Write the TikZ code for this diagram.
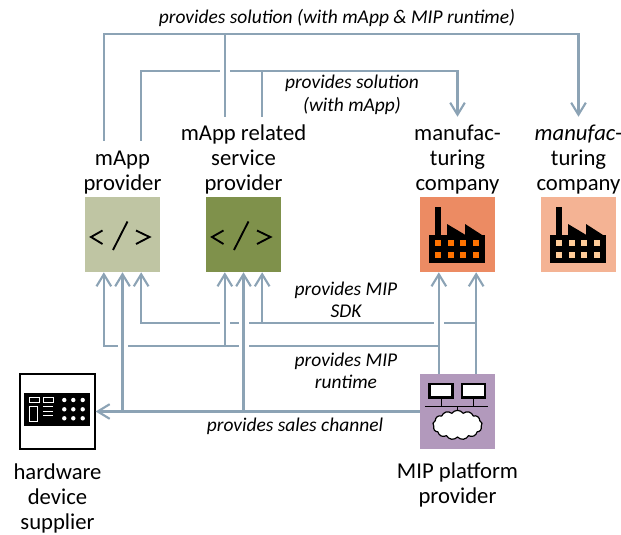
\documentclass[tikz,border=0pt]{standalone}
\usepackage{fontspec}
\setmainfont{Carlito}
\usetikzlibrary{positioning, arrows.meta, shapes.symbols}
\newcommand{\portshift}{14pt}
\newcommand{\gapshift}{3.75pt}
\newcommand{\standardarrow}{-{Straight Barb[length=9pt,width=11pt,line width=1.6pt]}}
\definecolor{linkblue}{HTML}{8CA3B5}
\definecolor{mappgreen}{HTML}{BFC5A3}
\definecolor{servicegreen}{HTML}{7F914B}
\definecolor{factoryorange}{HTML}{EC8B63}
\definecolor{customerorange}{HTML}{F4B394}
\definecolor{platformpurple}{HTML}{B299BC}
\tikzset{
    actorbox/.style={minimum size=56.25pt, inner sep=0pt},
    actorname/.style={font=\fontsize{17}{19}\selectfont, align=center, inner sep=0pt},
    flowname/.style={font=\fontsize{14.6}{16.8}\selectfont\itshape, align=center, inner sep=0pt},
    link/.style={draw=linkblue, line width=1.6pt},
    flow/.style={link, \standardarrow}
}
\newcommand{\codeicon}[1]{
    \begin{scope}[shift={(#1.center)}, line width=1.4pt]
        \draw (-20,-4) -- (-31.5,2.5) -- (-20,9.5);
        \draw (-9.5,15.5) -- (5,-13);
        \draw (13.5,-4) -- (27,2.5) -- (13.5,9.5);
    \end{scope}
}
\newcommand{\factoryicon}[2]{
    \begin{scope}[shift={(#1.center)}]
        \fill (-28.5,0.5) rectangle (27.5,28.5);
        \fill (-22.5,-27.5) rectangle (-16.5,0.5);
        \fill (-10.5,-10.5) -- (8,0.5) -- (-10.5,0.5) -- cycle;
        \fill (7.5,-10.5) -- (24.5,0.5) -- (7.5,0.5) -- cycle;
        \foreach \windowx in {-22.5,-9.5,2.5,15.5} {
            \foreach \windowy in {5.5,17.5} {
                \fill[#2] (\windowx,\windowy) rectangle ++(6,6);
            }
        }
    \end{scope}
}
\begin{document}
\begin{tikzpicture}[x=0.75pt, y=-0.75pt]
    \useasboundingbox (0,0) rectangle (621,535);

    % actors
    \node[actorbox, fill=mappgreen] (mappbox) at (122.5,234.5) {};
    \node[actorbox, fill=servicegreen] (servicebox) at (243.5,234.5) {};
    \node[actorbox, fill=factoryorange] (factorybox) at (457.5,234.5) {};
    \node[actorbox, fill=customerorange] (customerbox) at (578.5,234.5) {};
    \node[actorbox, fill=platformpurple] (platformbox) at (457.5,411.5) {};
    \node[actorbox, fill=white, draw=black, line width=1pt] (hardwarebox) at (57.5,411.5) {};

    \node[actorname, above=1.5pt of mappbox] (mappname) {mApp\\provider};
    \node[actorname, above=1.5pt of servicebox] (servicename) {mApp related\\service\\provider};
    \node[actorname, above=1.5pt of factorybox] (factoryname) {manufac-\\turing\\company};
    \node[actorname, above=1.5pt of customerbox] (customername) {\textit{manufac}-\\turing\\company};
    \node[actorname, below=10pt of platformbox] (platformname) {MIP platform\\provider};
    \node[actorname, below=10pt of hardwarebox] (hardwarename) {hardware\\device\\supplier};

    % icons
    \codeicon{mappbox}
    \codeicon{servicebox}
    \factoryicon{factorybox}{orange!90!red}
    \factoryicon{customerbox}{orange!40!white}

    \begin{scope}[shift={(platformbox.center)}]
        \draw[line width=2.2pt, fill=white] (-28,-27.5) rectangle (-5,-14);
        \draw[line width=2.2pt, fill=white] (4.5,-27.5) rectangle (27.5,-14);
        \draw[line width=0.8pt] (-16.2,-12.5) -- (-16.2,-4.8);
        \draw[line width=0.8pt] (16.2,-12.5) -- (16.2,-4.8);
        \draw[line width=0.8pt] (-32.5,-4.8) -- (30.2,-4.8);
        \node[cloud, draw, fill=white, line width=0.9pt, cloud puffs=13, cloud puff arc=110, aspect=1.7, minimum width=37pt, minimum height=22pt, inner sep=0pt] (platformcloud) at (0,13.5) {};
        \draw[line width=0.8pt] (0,-4.8) -- (platformcloud.north);
    \end{scope}

    \begin{scope}[shift={(hardwarebox.center)}]
        \fill (-33.5,-18.2) rectangle (32.5,14.2);
        \draw[white, line width=0.7pt] (-28.5,-14.2) rectangle (-18.2,-9.5);
        \draw[white, line width=0.7pt] (-14.2,-14.2) rectangle (-4.2,-9.5);
        \draw[white, line width=0.7pt] (-28.2,-5.5) rectangle (-20.2,9.5);
        \foreach \rowy in {-5.2,-0.5,3.8} {
            \draw[white, line width=0.7pt] (-14.2,\rowy) -- (-4.8,\rowy);
        }
        \foreach \dotx in {6.8,15.8,25.2} {
            \foreach \doty in {-11.5,-2.2,6.8} {
                \fill[white] (\dotx,\doty) circle (1.65pt);
            }
        }
    \end{scope}

    % free ends and the runs between them
    \coordinate (mappoutA) at ([xshift=-\portshift, yshift=42pt]mappbox.north);
    \coordinate (mappoutB) at ([xshift=\portshift, yshift=42pt]mappbox.north);
    \coordinate (serviceoutA) at ([xshift=-\portshift, yshift=60pt]servicebox.north);
    \coordinate (serviceoutB) at ([xshift=\portshift, yshift=60pt]servicebox.north);
    \coordinate (factoryin) at ([yshift=60pt]factorybox.north);
    \coordinate (customerin) at ([yshift=60pt]customerbox.north);
    \coordinate (mappL) at ([xshift=-\portshift]mappbox.south);
    \coordinate (mappR) at ([xshift=\portshift]mappbox.south);
    \coordinate (serviceL) at ([xshift=-\portshift]servicebox.south);
    \coordinate (serviceR) at ([xshift=\portshift]servicebox.south);
    \coordinate (factoryL) at ([xshift=-\portshift]factorybox.south);
    \coordinate (factoryR) at ([xshift=\portshift]factorybox.south);
    \coordinate (toprun) at (337,34);
    \coordinate (lowrun) at (337,71);
    \coordinate (sdkrun) at (346,323);
    \coordinate (runtimerun) at (346,346);
    \coordinate (lowcross) at (serviceoutA |- lowrun);
    \coordinate (sdkcrossA) at (serviceL |- sdkrun);
    \coordinate (sdkcrossB) at (servicebox.south |- sdkrun);
    \coordinate (sdkcrossC) at (factoryL |- sdkrun);
    \coordinate (runtimecrossA) at (mappbox.south |- runtimerun);
    \coordinate (runtimecrossB) at (servicebox.south |- runtimerun);

    % provides solution
    \draw[flow] (mappoutA) |- (toprun) -| (customerin);
    \draw[link] (serviceoutA) -- (serviceoutA |- toprun);
    \draw[link] (mappoutB) |- ([xshift=-\gapshift]lowcross);
    \draw[flow] ([xshift=\gapshift]lowcross) -| (factoryin);
    \draw[link] (serviceoutB) -- (serviceoutB |- lowrun);

    % provides MIP SDK
    \draw[flow] ([xshift=\portshift]platformbox.north) -- (factoryR);
    \draw[link] (factoryR |- sdkrun) -- ([xshift=\gapshift]sdkcrossC) ([xshift=-\gapshift]sdkcrossC) -- ([xshift=\gapshift]sdkcrossB)
        ([xshift=-\gapshift]sdkcrossB) -- ([xshift=\gapshift]sdkcrossA);
    \draw[flow] ([xshift=-\gapshift]sdkcrossA) -| (mappR);
    \draw[flow] (serviceR |- sdkrun) -- (serviceR);

    % provides MIP runtime
    \draw[flow] ([xshift=-\portshift]platformbox.north) -- (factoryL);
    \draw[link] (factoryL |- runtimerun) -- ([xshift=\gapshift]runtimecrossB) ([xshift=-\gapshift]runtimecrossB) -- ([xshift=\gapshift]runtimecrossA);
    \draw[flow] ([xshift=-\gapshift]runtimecrossA) -| (mappL);
    \draw[flow] (serviceL |- runtimerun) -- (serviceL);

    % provides sales channel
    \draw[flow] (platformbox.west) -- (hardwarebox.east);
    \draw[flow] (mappbox.south |- platformbox.west) -- (mappbox.south);
    \draw[flow] (servicebox.south |- platformbox.west) -- (servicebox.south);

    % flow names
    \node[flowname] (solutionall) at (337,18) {provides solution (with mApp \& MIP runtime)};
    \node[flowname] (solutionapp) at (352,95) {provides solution\\(with mApp)};
    \node[flowname] (sdkname) at (346,300) {provides MIP\\SDK};
    \node[flowname] (runtimename) at (346,371) {provides MIP\\runtime};
    \node[flowname] (salesname) at (295,426) {provides sales channel};
\end{tikzpicture}
\end{document}
